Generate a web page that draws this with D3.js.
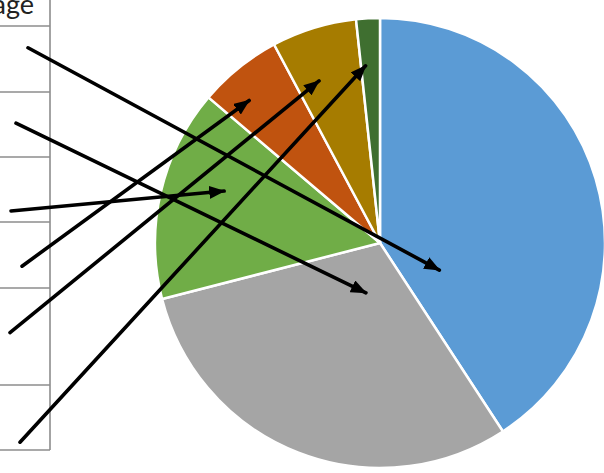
<!DOCTYPE html>
<html>
<head>
<meta charset="utf-8">
<script src="https://cdn.jsdelivr.net/npm/d3@7"></script>
<style>
  html, body { margin: 0; padding: 0; background: #fff; }
  svg { display: block; }
</style>
</head>
<body>
<svg id="chart" width="604" height="473"></svg>
<script>
// ---- data ----
const categories = ["Category 1", "Category 2", "Category 3", "Category 4", "Category 5", "Category 6"];
const percentages = [40.8, 30.2, 15.2, 6.0, 6.1, 1.7];
const sliceColors = ["#5B9BD5", "#A5A5A5", "#70AD47", "#C0530F", "#A67C00", "#3F6F30"];
const headerLabel = "Percentage";
// table row each category's arrow starts from (row index), arrows point into slices
const arrowRow = [0, 1, 2, 3, 4, 5];

// ---- layout (annotation geometry) ----
const W = 604, H = 473;
const cx = 380, cy = 243, R = 225;
const tableRight = 50;
const rowBounds = [26, 92, 157, 222, 288, 385, 450];
// arrow start: x inset and fraction down the row
const startX = [28, 16, 11, 22, 10, 20];
const startYFrac = [0.33, 0.48, 0.83, 0.67, 0.46, 0.88];
// arrow tip: fraction across slice angle, fraction of radius
const tipAngleFrac = [0.78, 0.45, 0.60, 0.33, 0.34, 0.24];
const tipRadiusFrac = [0.29, 0.23, 0.73, 0.86, 0.77, 0.79];

const svg = d3.select("#chart");

svg.append("defs").append("marker")
  .attr("id", "arrow")
  .attr("markerUnits", "userSpaceOnUse")
  .attr("viewBox", "0 0 16 13")
  .attr("refX", 15).attr("refY", 6.5)
  .attr("markerWidth", 16).attr("markerHeight", 13)
  .attr("orient", "auto")
  .append("path").attr("d", "M0,0 L16,6.5 L0,13 Z").attr("fill", "#000");

// ---- table ----
const table = svg.append("g");
table.append("line")
  .attr("x1", tableRight).attr("x2", tableRight)
  .attr("y1", 0).attr("y2", rowBounds[rowBounds.length - 1])
  .attr("stroke", "#8c8c8c").attr("stroke-width", 1.6);
table.selectAll("line.row").data(rowBounds).join("line")
  .attr("class", "row")
  .attr("x1", -10).attr("x2", tableRight)
  .attr("y1", d => d).attr("y2", d => d)
  .attr("stroke", "#8c8c8c").attr("stroke-width", 1.6);
table.append("text")
  .attr("x", 34).attr("y", 14)
  .attr("text-anchor", "end")
  .attr("font-family", "Lato, 'Noto Sans', sans-serif")
  .attr("font-size", 27)
  .attr("fill", "#222")
  .text(headerLabel);

// ---- pie ----
const pie = d3.pie().sort(null).value(d => d.v);
const data = categories.map((c, i) => ({ c, v: percentages[i], color: sliceColors[i], i }));
const arcs = pie(data);
const arc = d3.arc().innerRadius(0).outerRadius(R);

const g = svg.append("g").attr("transform", `translate(${cx},${cy})`);
g.selectAll("path").data(arcs).join("path")
  .attr("d", arc)
  .attr("fill", d => d.data.color)
  .attr("stroke", "#fff")
  .attr("stroke-width", 2.5)
  .attr("stroke-linejoin", "round");

// ---- arrows ----
const arrows = arcs.map((a, i) => {
  const row = arrowRow[i];
  const y0 = rowBounds[row] + (rowBounds[row + 1] - rowBounds[row]) * startYFrac[i];
  const ang = a.startAngle + (a.endAngle - a.startAngle) * tipAngleFrac[i];
  const r = R * tipRadiusFrac[i];
  return {
    x1: startX[i], y1: y0,
    x2: cx + r * Math.sin(ang), y2: cy - r * Math.cos(ang)
  };
});
svg.append("g").selectAll("line").data(arrows).join("line")
  .attr("x1", d => d.x1).attr("y1", d => d.y1)
  .attr("x2", d => d.x2).attr("y2", d => d.y2)
  .attr("stroke", "#000").attr("stroke-width", 3.6)
  .attr("stroke-linecap", "round")
  .attr("marker-end", "url(#arrow)");
</script>
</body>
</html>
